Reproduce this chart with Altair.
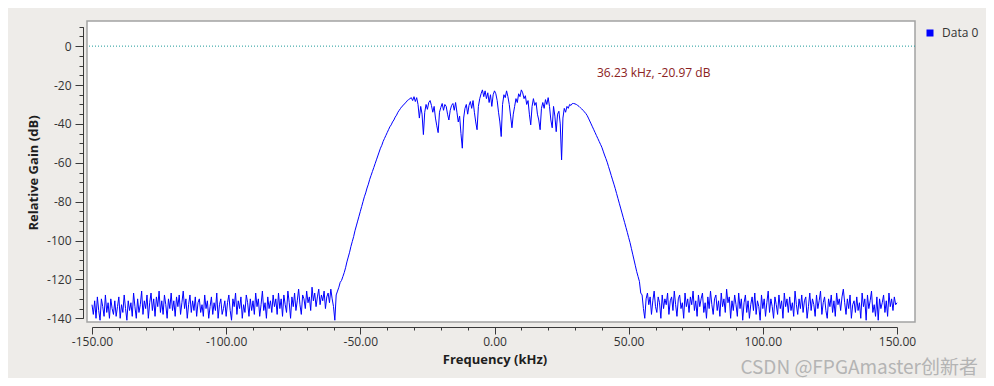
import altair as alt
import pandas as pd

STEP_KHZ = 0.5

# --- spectrum values (dB) ---
noise_left_start = -150.0
noise_left = [
    -133, -138, -131, -140, -129, -136, -141, -130, -134, -139, -128, -137, -132, -140, -130, -135, -138, -131, -139, -134,
    -129, -140, -133, -137, -128, -135, -141, -131, -136, -132, -139, -127, -134, -140, -130, -137, -133, -126, -138, -131,
    -135, -128, -140, -132, -127, -136, -130, -139, -129, -134, -126, -137, -131, -138, -128, -133, -140, -130, -135, -127,
    -136, -131, -139, -129, -134, -128, -138, -132, -126, -135, -130, -140, -133, -128, -137, -131, -136, -129, -139, -132,
    -130, -137, -133, -139, -128, -135, -131, -140, -134, -129, -138, -132, -136, -127, -140, -133, -130, -138, -135, -131,
    -139, -132, -128, -136, -141, -130, -134, -127, -138, -131, -135, -129, -140, -133, -137, -128, -132, -139, -130, -136,
    -131, -138, -127, -134, -130, -139, -133, -126, -136, -132, -140, -129, -135, -131, -137, -128, -134, -130, -138, -127,
    -135, -130, -139, -128, -133, -137, -126, -132, -140, -129, -134, -127, -136, -131, -125, -133, -138, -128, -130, -135,
    -126, -132, -129, -136, -124, -131, -127, -134, -129, -125, -133, -128, -131, -126, -135, -129, -127, -132, -125, -130,
    -134, -141, -128, -126,
]

rise_start = -58.0
rise = [
    -124, -121.5, -120.5, -118.5, -116.5, -114, -111, -108.5, -106, -103,
    -100.5, -98, -95, -92.5, -90, -87.5, -85, -82.5, -80, -77.5,
    -75.5, -73, -71, -68.5, -66.5, -64.5, -62.5, -60.5, -58.5, -56.5,
    -54.5, -52.5, -51, -49, -47.5, -46, -44.5, -43, -41.5, -40.5,
    -39, -38, -36.5, -35.5, -34, -33, -32, -31, -30.5, -29.5,
    -29, -28, -27.5, -27,
]

passband_start = -31.0
passband = [
    -26.5, -28, -26, -28.5, -26.5, -30, -37, -31, -35, -45.5,
    -34, -30, -32.5, -29, -28, -30.5, -34, -31, -37, -41,
    -44.5, -34, -31.5, -29.5, -33, -30, -31, -35, -38, -33,
    -30.5, -29.5, -33, -29, -34, -39, -36, -45, -52.5, -37,
    -32, -30, -35, -30.5, -28.5, -32, -28, -34, -39, -43,
    -31, -27, -24.5, -22.5, -26, -23, -27, -24, -29, -25,
    -31, -25, -23, -24.5, -28, -34, -39, -46.5, -30, -25,
    -26.5, -23, -26, -30, -36, -42, -35, -31, -27, -29,
    -24.5, -26, -22.5, -24, -27, -25.5, -30, -28, -35, -40.5,
    -31, -27, -30.5, -29, -35, -38, -43, -32, -29, -32,
    -27.5, -30, -26.5, -31, -38, -42, -31, -36, -44, -35,
    -33.5, -40, -58.5, -37, -32, -34, -31, -32, -30, -30.5,
    -29.5, -29.5,
]

fall_start = 30.0
fall = [
    -29.7, -30, -30.5, -31, -31.7, -32.3, -33, -33.8, -34.6, -35.6,
    -37, -38.5, -40, -41.5, -43, -44.5, -46, -47.5, -49, -50.5,
    -52, -54, -56, -57.8, -59.7, -62, -64.2, -66.5, -68.8, -71,
    -73.3, -75.8, -78.3, -80.8, -83.3, -85.8, -88.3, -90.8, -93.3, -95.8,
    -98.5, -101, -104, -107, -110, -113, -116, -118.5, -121, -127,
]

noise_right_start = 55.0
noise_right = [
    -128, -135, -140, -130, -127, -133, -129, -138, -131, -126, -134, -137, -129, -132, -140, -128, -135, -130, -133, -127,
    -138, -131, -129, -136, -126, -133, -139, -130, -128, -135, -132, -140, -127, -134, -130, -137, -129, -133, -126, -136,
    -131, -139, -128, -134, -130, -127, -137, -132, -140, -129, -135, -126, -133, -138, -130, -128, -136, -131, -139, -127,
    -134, -130, -137, -125, -132, -129, -140, -131, -136, -128, -133, -139, -127, -135, -130, -141, -132, -128, -137, -131,
    -140, -133, -129, -136, -127, -138, -131, -134, -141, -128, -135, -130, -139, -132, -126, -137, -130, -134, -140, -129,
    -133, -138, -128, -135, -131, -140, -127, -134, -130, -137, -129, -136, -132, -139, -126, -133, -138, -130, -135, -128,
    -137, -131, -129, -140, -134, -127, -136, -130, -133, -139, -128, -135, -131, -126, -138, -132, -129, -136, -140, -130,
    -134, -128, -137, -131, -139, -127, -133, -130, -136, -129, -125, -132, -138, -130, -135, -128, -140, -133, -131, -137,
    -129, -136, -132, -140, -127, -134, -130, -141, -128, -135, -131, -126, -137, -133, -139, -129, -141, -130, -135, -132,
    -128, -137, -131, -139, -127, -134, -130, -136, -129, -133, -132,
]

series_name = ["Data 0"]
marker_text = ["36.23 kHz, -20.97 dB"]
marker_freq = [38.2]
marker_gain = [-13.9]
zero_level = [0]

x_ticks = [-150, -140, -130, -120, -110, -100, -90, -80, -70, -60, -50, -40, -30, -20, -10, 0,
           10, 20, 30, 40, 50, 60, 70, 80, 90, 100, 110, 120, 130, 140, 150]
y_ticks = [10, 5, 0, -5, -10, -15, -20, -25, -30, -35, -40, -45, -50, -55, -60, -65, -70,
           -75, -80, -85, -90, -95, -100, -105, -110, -115, -120, -125, -130, -135, -140]

segments = [
    (noise_left_start, noise_left),
    (rise_start, rise),
    (passband_start, passband),
    (fall_start, fall),
    (noise_right_start, noise_right),
]
freqs, gains = [], []
for start, values in segments:
    for i, v in enumerate(values):
        freqs.append(start + STEP_KHZ * i)
        gains.append(v)

df = pd.DataFrame({"freq": freqs, "gain": gains})
legend_df = pd.DataFrame({"freq": [freqs[0]], "gain": [gains[0]], "series": series_name})
marker_df = pd.DataFrame({"freq": marker_freq, "gain": marker_gain, "label": marker_text})
zero_df = pd.DataFrame({"gain": zero_level})

FONT = "Open Sans"
x_scale = alt.Scale(domain=[-150, 150], range=[5, 810], nice=False, zero=False)
y_scale = alt.Scale(domain=[-140, 10], range=[297.3, 5.7], nice=False, zero=False)

x_axis = alt.Axis(
    values=x_ticks,
    title="Frequency (kHz)",
    labelExpr="datum.value % 50 == 0 ? (datum.value < 0 ? '-' : '') + format(abs(datum.value), '.2f') : ''",
    tickSize={"condition": {"test": "datum.value % 50 == 0", "value": 7}, "value": 3},
    offset=5,
    grid=False,
    labelFlush=False,
    labelOverlap=False,
    labelPadding=2,
    titlePadding=6,
)
y_axis = alt.Axis(
    values=y_ticks,
    title="Relative Gain (dB)",
    labelExpr="datum.value % 20 == 0 ? (datum.value < 0 ? '-' : '') + format(abs(datum.value), 'd') : ''",
    tickSize={"condition": {"test": "datum.value % 20 == 0", "value": 8}, "value": 4},
    offset=4,
    grid=False,
    labelFlush=False,
    labelOverlap=False,
    labelPadding=4,
    titlePadding=6,
)

X = alt.X("freq:Q", scale=x_scale, axis=x_axis)
Y = alt.Y("gain:Q", scale=y_scale, axis=y_axis)

line = alt.Chart(df).mark_line(color="#0000ff", strokeWidth=1).encode(x=X, y=Y)

zero_line = alt.Chart(zero_df).mark_rule(color="#1d9a9a", strokeWidth=1, strokeDash=[1, 2]).encode(y=Y)

legend_layer = alt.Chart(legend_df).mark_square(opacity=0, size=10).encode(
    x=X,
    y=Y,
    color=alt.Color(
        "series:N",
        scale=alt.Scale(range=["#0000ff"]),
        title="",
        legend=alt.Legend(
            orient="none",
            legendX=837,
            legendY=6,
            symbolType="square",
            symbolSize=49,
            symbolOpacity=1,
            symbolStrokeWidth=0,
            labelFont=FONT,
            labelFontSize=12,
            labelColor="#333333",
            labelOffset=6,
            padding=0,
        ),
    ),
)

marker = alt.Chart(marker_df).mark_text(
    align="left", baseline="middle", font=FONT, fontSize=12, color="#8b2222"
).encode(x=X, y=Y, text="label:N")

chart = (
    alt.layer(line, zero_line, marker, legend_layer)
    .properties(
        width=828,
        height=301,
        autosize=alt.AutoSizeParams(type="none"),
        padding={"left": 79, "top": 13, "right": 71, "bottom": 56},
        background="#eeece9",
        title=alt.TitleParams(
            text="CSDN @FPGAmaster创新者",
            orient="bottom",
            anchor="end",
            frame="group",
            font="Noto Sans CJK SC",
            fontSize=19,
            fontWeight="normal",
            color="#b4b4b4",
            dx=63,
            offset=-7,
        ),
    )
    .configure_view(fill="white", stroke="#a3a3a3", strokeWidth=1.5)
    .configure_axis(
        labelFont=FONT,
        labelFontSize=12,
        labelColor="#333333",
        labelOverlap=False,
        titleFont=FONT,
        titleFontSize=13,
        titleFontWeight="bold",
        titleColor="#1e1e1e",
        domainColor="#3a3a3a",
        tickColor="#3a3a3a",
    )
)

chart.save("out.html", embed_options={"renderer": "svg", "actions": False})
